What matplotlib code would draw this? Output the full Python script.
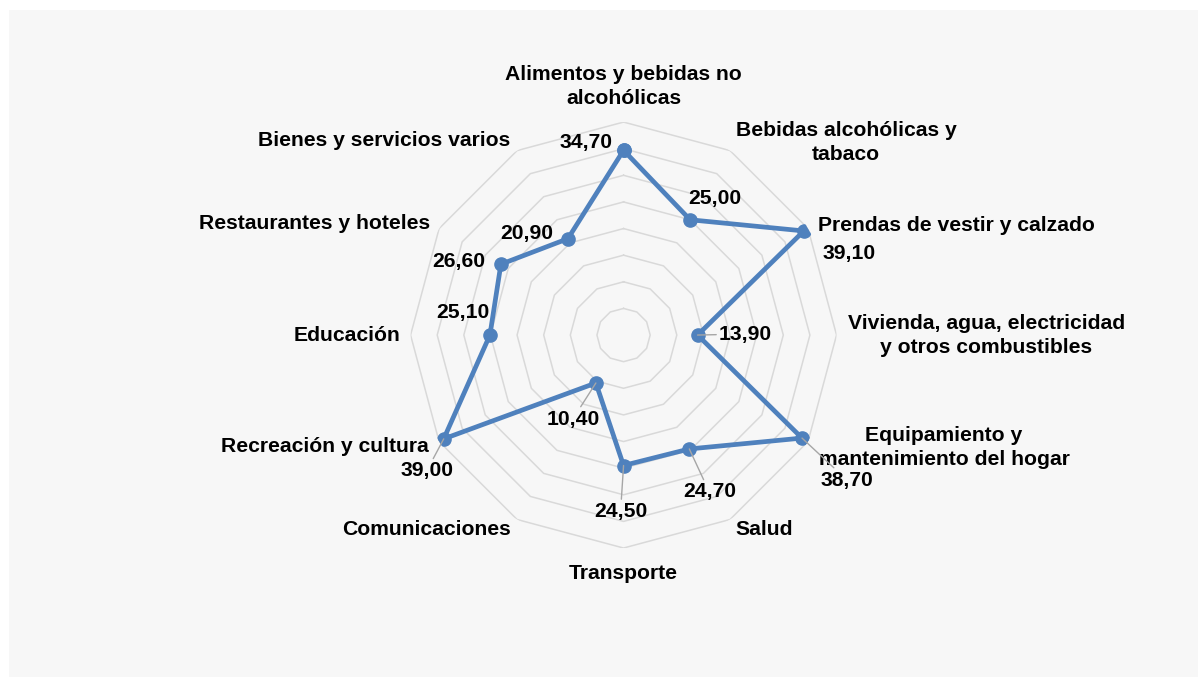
import numpy as np
import matplotlib
matplotlib.use("Agg")
import matplotlib.pyplot as plt
from matplotlib.patches import Rectangle

# Datos
categorias = [
    "Alimentos y bebidas no\nalcohólicas",
    "Bebidas alcohólicas y\ntabaco",
    "Prendas de vestir y calzado",
    "Vivienda, agua, electricidad\ny otros combustibles",
    "Equipamiento y\nmantenimiento del hogar",
    "Salud",
    "Transporte",
    "Comunicaciones",
    "Recreación y cultura",
    "Educación",
    "Restaurantes y hoteles",
    "Bienes y servicios varios",
]
valores = [34.70, 25.00, 39.10, 13.90, 38.70, 24.70, 24.50, 10.40, 39.00, 25.10, 26.60, 20.90]
etiquetas = ["34,70", "25,00", "39,10", "13,90", "38,70", "24,70",
             "24,50", "10,40", "39,00", "25,10", "26,60", "20,90"]
anillos = [5, 10, 15, 20, 25, 30, 35, 40]

# offsets (px) of the value labels and category labels
off_valor = [(-38, 8), (25, 21), (45, -23), (48, 1), (45, -42), (20, -43),
             (-3, -46), (-23, -36), (-17, -32), (-27, 23), (-42, 3), (-41, 5)]
con_guia = [False, False, False, True, True, True, True, True, True, False, False, False]
off_cat = [(0, 36), (116, 8), (10, 3), (150, 0), (136, -6), (34, -10),
           (0, -25), (-91, -10), (-114, -5), (-64, 0), (-125, 5), (-133, 10)]

plt.rcParams['font.family'] = ['Liberation Sans', 'DejaVu Sans']

fig = plt.figure(figsize=(11.98, 6.77), dpi=100, facecolor="white")
fig.patches.append(Rectangle((9 / 1198, 0), 1, 667 / 677, transform=fig.transFigure,
                             facecolor="#F7F7F7", edgecolor="none", zorder=-10))

ax = fig.add_axes([0.3427, 0.1905, 0.3556, 0.6292], projection="polar")
ax.set_facecolor("none")
ax.set_theta_zero_location("N")
ax.set_theta_direction(-1)
ax.set_ylim(0, 40)
ax.set_xticks([])
ax.set_yticks([])
ax.grid(False)
ax.spines["polar"].set_visible(False)

n = len(categorias)
theta = np.arange(n) * 2 * np.pi / n
theta_c = np.append(theta, theta[0])

for r in anillos:
    ax.plot(theta_c, [r] * (n + 1), color="#D9D9D9", lw=1.1, zorder=1)

v_c = np.append(valores, valores[0])
ax.plot(theta_c, v_c, color="#4F81BD", lw=3.4, marker="o", markersize=9.5, zorder=3)

for i in range(n):
    props = None
    if con_guia[i]:
        props = dict(arrowstyle="-", color="#A6A6A6", lw=1, shrinkA=0, shrinkB=0)
    ax.annotate(etiquetas[i], xy=(theta[i], valores[i]), xytext=off_valor[i],
                textcoords="offset pixels", ha="center", va="center",
                fontsize=15.2, fontweight="bold", color="black",
                arrowprops=props, zorder=4, annotation_clip=False)

for i in range(n):
    ha = "left" if i == 2 else "center"
    ax.annotate(categorias[i], xy=(theta[i], 40), xytext=off_cat[i],
                textcoords="offset pixels", ha=ha, va="center",
                multialignment="center", linespacing=1.33,
                fontsize=15.2, fontweight="bold", color="black",
                annotation_clip=False)

fig.savefig("out.png", dpi=100, facecolor="white")
